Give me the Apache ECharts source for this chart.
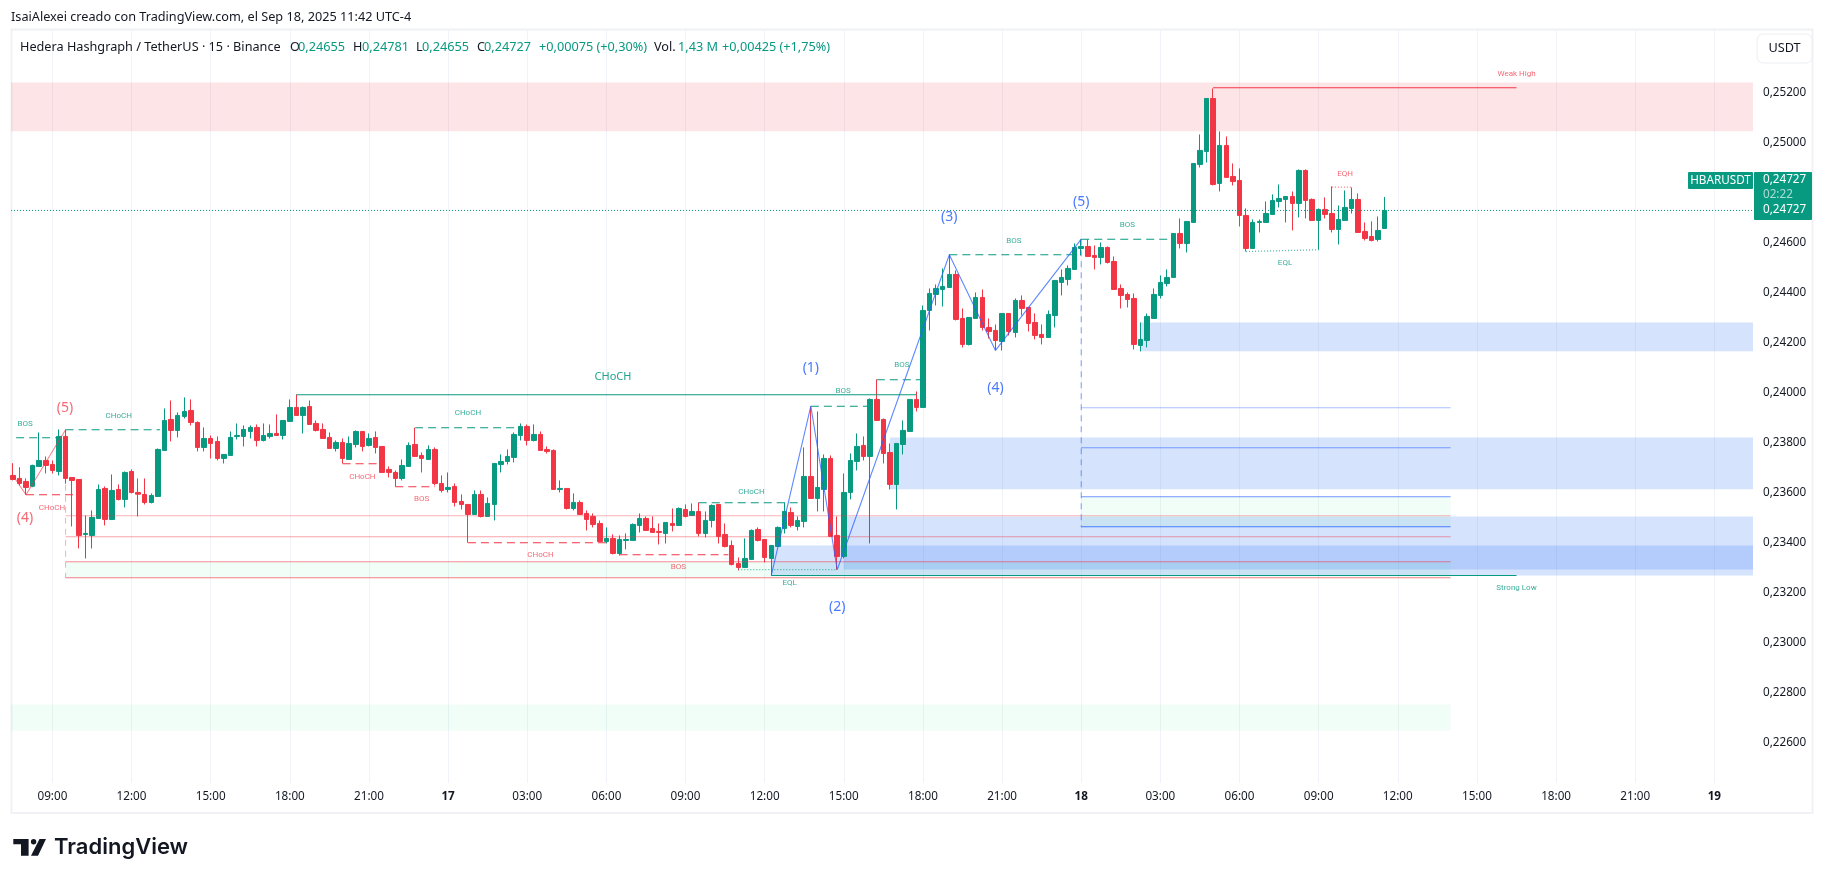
<!DOCTYPE html>
<html><head><meta charset="utf-8">
<style>html,body{margin:0;padding:0;background:#fff}#c{width:1825px;height:880px}</style>
<script src="https://cdn.jsdelivr.net/npm/echarts@6/dist/echarts.min.js"></script></head>
<body><div id="c"></div>
<script>
const FIRST_BAR=-6, PRICE_UNIT=1e-5;
const barOpen=[23667,23655,23643,23624,23703,23727,23711,23683,23823,23659,
23651,23431,23427,23495,23615,23491,23611,23571,23683,23599,
23591,23559,23583,23767,23891,23847,23903,23927,23879,23779,
23815,23803,23735,23747,23823,23823,23843,23859,23807,23823,
23835,23827,23883,23939,23907,23943,23875,23851,23819,23775,
23799,23731,23791,23843,23787,23819,23783,23691,23679,23655,
23703,23791,23747,23731,23771,23635,23611,23623,23563,23551,
23511,23591,23503,23551,23711,23723,23739,23827,23863,23807,
23831,23771,23767,23611,23615,23535,23559,23515,23503,23475,
23403,23415,23355,23407,23407,23467,23495,23455,23443,23435,
23475,23467,23531,23507,23523,23435,23487,23551,23431,23387,
23315,23299,23331,23451,23411,23335,23383,23455,23519,23463,
23483,23663,23575,23611,23735,23427,23343,23599,23723,23787,
23743,23971,23891,23759,23631,23791,23843,23971,23939,24327,
24391,24411,24419,24471,24295,24191,24295,24379,24259,24247,
24203,24315,24239,24367,24339,24279,24231,24219,24307,24439,
24451,24491,24575,24583,24547,24539,24579,24523,24415,24391,
24375,24187,24207,24295,24387,24435,24459,24635,24595,24679,
24911,24963,25175,24835,24987,24863,24847,24707,24575,24679,
24679,24711,24763,24771,24783,24755,24887,24771,24687,24731,
24715,24651,24687,24735,24771,24643,24623,24611,24655];
const barHigh=[23716,23700,23655,23710,23839,23743,23727,23851,23850,23659,
23651,23507,23527,23631,23623,23671,23631,23683,23691,23655,
23655,23595,23775,23935,23967,23919,23979,23971,23883,23859,
23827,23823,23751,23843,23875,23867,23867,23871,23875,23871,
23911,23887,23971,23991,23943,23967,23887,23875,23839,23807,
23815,23823,23847,23843,23835,23843,23783,23703,23687,23731,
23799,23858,23759,23787,23779,23667,23679,23635,23591,23551,
23607,23607,23579,23715,23751,23771,23839,23875,23871,23871,
23843,23783,23771,23647,23615,23595,23567,23527,23515,23487,
23459,23431,23427,23435,23475,23515,23503,23503,23475,23479,
23535,23539,23551,23555,23559,23523,23551,23551,23475,23407,
23339,23415,23451,23459,23411,23387,23463,23559,23539,23503,
23779,23944,23923,23751,23747,23503,23675,23755,23835,23823,
23975,24051,23895,23795,23795,23887,23971,24003,24347,24415,
24431,24495,24551,24487,24335,24299,24399,24411,24295,24271,
24315,24315,24375,24387,24339,24315,24271,24327,24447,24491,
24507,24595,24611,24611,24587,24599,24583,24543,24431,24399,
24395,24279,24315,24415,24467,24491,24635,24695,24683,24915,
25031,25175,25215,25043,25023,24915,24895,24735,24691,24691,
24763,24791,24831,24783,24803,24891,24891,24775,24735,24779,
24823,24747,24807,24819,24795,24679,24683,24703,24781];
const barLow=[23647,23627,23590,23620,23703,23675,23675,23667,23634,23463,
23375,23335,23375,23495,23467,23491,23567,23539,23595,23503,
23551,23555,23583,23767,23803,23819,23895,23867,23763,23763,
23735,23727,23715,23747,23811,23783,23815,23783,23803,23815,
23827,23811,23883,23907,23835,23871,23843,23815,23775,23763,
23715,23731,23779,23763,23783,23755,23679,23659,23622,23647,
23703,23743,23679,23731,23627,23599,23599,23543,23531,23398,
23511,23499,23503,23487,23679,23711,23719,23807,23787,23803,
23767,23755,23611,23599,23531,23527,23511,23447,23459,23403,
23395,23351,23347,23371,23407,23439,23447,23439,23391,23395,
23443,23467,23499,23507,23423,23419,23459,23395,23379,23307,
23287,23299,23331,23403,23319,23267,23383,23435,23459,23447,
23459,23575,23523,23523,23423,23290,23335,23571,23687,23727,
23395,23887,23715,23611,23531,23751,23843,23923,23939,24247,
24347,24343,24419,24287,24179,24187,24295,24247,24215,24167,
24167,24227,24219,24307,24243,24211,24191,24219,24259,24387,
24427,24491,24547,24543,24491,24511,24515,24411,24335,24339,
24171,24163,24179,24295,24375,24423,24459,24575,24559,24679,
24899,24919,24827,24803,24859,24827,24663,24563,24575,24639,
24679,24711,24739,24679,24647,24699,24695,24687,24570,24695,
24639,24591,24687,24715,24639,24607,24603,24603,24655];
const barClose=[23651,23635,23619,23707,23727,23707,23687,23823,23655,23647,
23427,23435,23499,23611,23491,23607,23571,23679,23599,23592,
23559,23587,23771,23887,23847,23907,23923,23879,23779,23815,
23795,23735,23751,23819,23827,23851,23859,23807,23827,23835,
23827,23887,23939,23907,23939,23871,23847,23815,23775,23799,
23735,23795,23843,23783,23815,23779,23679,23679,23655,23707,
23787,23743,23735,23771,23635,23607,23619,23559,23551,23511,
23591,23503,23555,23715,23723,23743,23831,23863,23807,23831,
23767,23763,23611,23615,23535,23559,23511,23491,23471,23403,
23415,23355,23411,23411,23471,23495,23447,23439,23439,23479,
23467,23535,23503,23523,23435,23487,23547,23423,23383,23311,
23299,23335,23447,23407,23339,23387,23459,23523,23467,23487,
23663,23575,23619,23735,23423,23343,23599,23727,23783,23743,
23971,23887,23755,23631,23795,23847,23971,23939,24327,24395,
24415,24423,24471,24291,24191,24299,24379,24259,24243,24207,
24315,24243,24367,24335,24275,24227,24219,24311,24447,24459,
24495,24579,24583,24543,24539,24579,24519,24411,24387,24371,
24191,24211,24303,24391,24439,24459,24635,24595,24683,24915,
24967,25175,24831,24987,24859,24843,24707,24575,24679,24683,
24715,24767,24775,24783,24755,24887,24767,24687,24731,24711,
24651,24691,24739,24771,24639,24615,24607,24647,24727];

const priceTicks=[.226,.228,.23,.232,.234,.236,.238,.24,.242,.244,.246,.248,.25,.252];
const timeTickBars=[0,12,24,36,48,60,72,84,96,108,120,132,144,156,168,180,192,204,216,228,240,252];
const timeTickLabels=['09:00','12:00','15:00','18:00','21:00','17','03:00','06:00','09:00','12:00','15:00','18:00','21:00','18','03:00','06:00','09:00','12:00','15:00','18:00','21:00','19'];
const lastPrice=.24727, BAR_MIN=-6.278, BAR_MAX=257.86, RIGHT_END=212, FAR_RIGHT=222;

// zones: [fromBar, toBar, upperPrice, lowerPrice]
const redZones=[[BAR_MIN,BAR_MAX,.25239,.25044]];
const blueZones=[[165,BAR_MAX,.242788,.24164],[127,BAR_MAX,.238188,.23612],[120,BAR_MAX,.235028,.232908],[109,BAR_MAX,.233868,.232668]];
const greenZones=[[2,RIGHT_END,.233216,.232576],[156,RIGHT_END,.2358,.2346],[BAR_MIN,RIGHT_END,.227508,.226468]];

// level lines: [fromBar, toBar, price]
const redLevels=[[2,RIGHT_END,.235056,.5],[2,RIGHT_END,.234216,.6],[2,RIGHT_END,.233216,.75],[2,RIGHT_END,.232576,.85]];
const blueLevels=[[156,RIGHT_END,.239376,.5],[156,RIGHT_END,.237776,.7],[156,RIGHT_END,.235816,.85],[156,RIGHT_END,.234616,1]];
const tealDashed=[[-5.5,.55,.238176],[2,16.3,.238496],[55,70.6,.238576],[98,113.6,.235576],[115,124,.23944],[125,132,.240496],[136,154.7,.245496],[156,170,.24612]];
const redDashed=[[-4,3.7,.235896],[44,49.7,.237136],[52,58,.236216],[63,84,.233976],[86,102.5,.233496]];
const tealSolid=[[37,131,.2399],[109,FAR_RIGHT,.232668]];
const redSolid=[[176,FAR_RIGHT,.25218]];
// paths: list of [bar, price]
const blueWave=[[109,.232668],[115,.23944],[119,.2329],[136,.245496],[143,.24167],[156,.24612]];
const redWave=[[-6,.236668],[-4,.235896],[2,.238496]];
const blueDrop=[[156,.24612],[156,.2346]];
const redDrop=[[2,.238496],[2,.232576]];
const tealDots=[[[104,.2329],[119,.2329]],[[181,.245628],[192,.245696]]];
const redDots=[[[194,.2482],[197,.2482]]];
// labels: [bar, price, text]
const tealSmallLabels=[[-4.15,.238748,'BOS'],[10.05,.239068,'CHoCH'],[63,.239188,'CHoCH'],[106,.236028,'CHoCH'],[111.8,.232388,'EQL'],[119.9,.240068,'BOS'],[128.8,.241108,'BOS'],[145.8,.246068,'BOS'],[163,.246708,'BOS'],[186.9,.245188,'EQL'],[222,.232188,'Strong Low']];
const redSmallLabels=[[-.06,.235388,'CHoCH'],[47,.236628,'CHoCH'],[56,.235748,'BOS'],[74,.233508,'CHoCH'],[94.9,.233028,'BOS'],[196,.248748,'EQH'],[222,.252748,'Weak High']];
const tealBigLabels=[[85,.240628,'CHoCH']];
const blueWaveLabels=[[115,.240948,'(1)'],[119,.231388,'(2)'],[136,.246988,'(3)'],[143,.240148,'(4)'],[156,.247588,'(5)']];
const redWaveLabels=[[1.9,.239348,'(5)'],[-4.15,.234948,'(4)']];

const UP='#089981', DOWN='#F23645', BLUE='#2962FF', TXT='#131722', GRID='#f0f3f7';
const FONT="'Noto Sans',sans-serif", SMALL="Roboto,sans-serif";
const fmt=v=>v.toFixed(5).replace('.',',');

const candles=barOpen.map((o,k)=>[FIRST_BAR+k,o*PRICE_UNIT,barClose[k]*PRICE_UNIT,barLow[k]*PRICE_UNIT,barHigh[k]*PRICE_UNIT]);

function zoneSeries(name,rows,color){
  return {type:'custom',name,silent:true,z:1,clip:true,data:rows,encode:{x:[0,1],y:[2,3]},
    renderItem(p,api){
      const a=api.coord([api.value(0),api.value(2)]), b=api.coord([api.value(1),api.value(3)]);
      return {type:'rect',shape:{x:a[0],y:a[1],width:b[0]-a[0],height:b[1]-a[1]},style:{fill:color},silent:true};
    }};
}
function pathSeries(pts,color,width,dash,opacity,z){
  return {type:'line',data:pts,showSymbol:false,symbol:'none',silent:true,z:z||4,animation:false,
    lineStyle:{color,width,type:dash||'solid',opacity:opacity==null?1:opacity}};
}
const seg=r=>[[r[0],r[2]],[r[1],r[2]]];
function labelSeries(rows,color,size,family,opacity){
  return {type:'scatter',data:rows.map(r=>({value:[r[0],r[1]],text:r[2]})),symbolSize:1,silent:true,z:6,itemStyle:{opacity:0},
    label:{show:true,position:'inside',formatter:p=>p.data.text,color,fontSize:size,fontFamily:family,opacity:opacity==null?1:opacity}};
}

const series=[
  zoneSeries('supply',redZones,'rgba(242,54,69,.13)'),
  zoneSeries('demand',blueZones,'rgba(39,108,244,.19)'),
  zoneSeries('fvg',greenZones,'rgba(0,230,118,.06)'),
  {type:'candlestick',name:'HBARUSDT',data:candles,barWidth:5,z:3,clip:true,silent:true,
   itemStyle:{color:UP,color0:DOWN,borderColor:UP,borderColor0:DOWN,borderWidth:1},
   encode:{x:0,y:[1,2,3,4]}},
  pathSeries([[BAR_MIN,lastPrice],[BAR_MAX,lastPrice]],UP,1,[1,2]),
  ...redLevels.map(r=>pathSeries(seg(r),DOWN,1.1,null,r[3]*.75)),
  ...blueLevels.map(r=>pathSeries(seg(r),BLUE,1.1,null,r[3]*.8)),
  ...tealDashed.map(r=>pathSeries(seg(r),UP,1.1,[8,5])),
  ...redDashed.map(r=>pathSeries(seg(r),DOWN,1.1,[8,5])),
  ...tealSolid.map(r=>pathSeries(seg(r),UP,1.1)),
  ...redSolid.map(r=>pathSeries(seg(r),DOWN,1.1)),
  pathSeries(blueWave,BLUE,1.1,null,.75),
  pathSeries(redWave,DOWN,1.1,null,.6),
  pathSeries(blueDrop,BLUE,1.1,[6,5],.55),
  pathSeries(redDrop,DOWN,1,[6,5],.4),
  ...tealDots.map(p=>pathSeries(p,UP,1.3,[1,2],.7)),
  ...redDots.map(p=>pathSeries(p,DOWN,1.3,[1,2],.7)),
  labelSeries(tealSmallLabels,UP,8,SMALL,.8),
  labelSeries(redSmallLabels,DOWN,8,SMALL,.75),
  labelSeries(tealBigLabels,UP,11,FONT,.9),
  labelSeries(blueWaveLabels,BLUE,14,FONT,.85),
  labelSeries(redWaveLabels,DOWN,14,FONT,.75)
];

function t(x,y,text,opt){return {type:'text',x,y,z:50,silent:true,style:Object.assign({text,fill:TXT,font:'12.7px '+FONT,textVerticalAlign:'middle'},opt||{})};}
const small='11.7px '+FONT;
const graphic=[
  {type:'rect',z:0,silent:true,shape:{x:11.5,y:29.5,width:1801,height:783.5},style:{fill:'none',stroke:'#f0f1f4',lineWidth:2}},
  t(11,17,'IsaiAlexei creado con TradingView.com, el Sep 18, 2025 11:42 UTC-4'),
  t(20,47,'Hedera Hashgraph / TetherUS · 15 · Binance'),
  t(290,47,'O'),t(298,47,'0,24655',{fill:UP}),t(353,47,'H'),t(362,47,'0,24781',{fill:UP}),
  t(416,47,'L'),t(422,47,'0,24655',{fill:UP}),t(477,47,'C'),t(484,47,'0,24727',{fill:UP}),
  t(539,47,'+0,00075 (+0,30%)',{fill:UP}),t(654,47,'Vol.'),t(678,47,'1,43 M',{fill:UP}),
  t(722,47,'+0,00425 (+1,75%)',{fill:UP}),
  {type:'rect',z:50,silent:true,shape:{x:1757,y:34,width:55,height:29,r:6},style:{fill:'#fff',stroke:'#eceef2',lineWidth:1}},
  t(1784.5,48.5,'USDT',{textAlign:'center'}),
  {type:'rect',z:50,silent:true,shape:{x:1688,y:172,width:65,height:17,r:1},style:{fill:UP}},
  {type:'rect',z:50,silent:true,shape:{x:1754,y:172,width:58,height:48,r:1},style:{fill:UP}},
  t(1720.5,180.5,'HBARUSDT',{fill:'#fff',textAlign:'center',font:small}),
  t(1763,180,'0,24727',{fill:'#fff',font:small}),
  t(1763,194.5,'02:22',{fill:'rgba(255,255,255,.65)',font:small}),
  t(1763,210,'0,24727',{fill:'#fff',font:small}),
  {type:'polygon',z:50,silent:true,shape:{points:[[13.3,839],[28.6,839],[28.6,855.7],[21,855.7],[21,844.3],[13.3,844.3]]},style:{fill:TXT}},
  {type:'circle',z:50,silent:true,shape:{cx:33.6,cy:841.7,r:2.7},style:{fill:TXT}},
  {type:'polygon',z:50,silent:true,shape:{points:[[39.5,839],[46,839],[38,855.7],[31,855.7]]},style:{fill:TXT}},
  t(54,847,'TradingView',{font:'600 22px Inter,sans-serif',fill:TXT})
];

const chart=echarts.init(document.getElementById('c'),null,{renderer:'canvas'});
chart.setOption({
  animation:false,backgroundColor:'#fff',
  grid:{left:11,right:72,top:29,bottom:97},
  xAxis:{type:'value',min:BAR_MIN,max:BAR_MAX,boundaryGap:false,scale:true,
    axisLine:{show:false},
    axisTick:{show:false,customValues:timeTickBars},
    axisLabel:{customValues:timeTickBars,margin:8,color:TXT,fontSize:11.7,fontFamily:FONT,hideOverlap:false,
      rich:{d:{fontWeight:'bold',fontSize:11.7,fontFamily:FONT,color:TXT}},
      formatter:v=>{const s=timeTickLabels[timeTickBars.indexOf(v)]||'';return s.length===2?'{d|'+s+'}':s;}},
    splitLine:{show:true,lineStyle:{color:GRID,width:1}}},
  yAxis:{type:'value',position:'right',min:.224368,max:.254528,scale:true,
    axisLine:{show:false},
    axisTick:{show:false,customValues:priceTicks},
    axisLabel:{customValues:priceTicks,margin:10,color:TXT,fontSize:11.7,fontFamily:FONT,formatter:fmt,hideOverlap:false},
    splitLine:{show:false}},
  series,graphic
});
</script></body></html>
